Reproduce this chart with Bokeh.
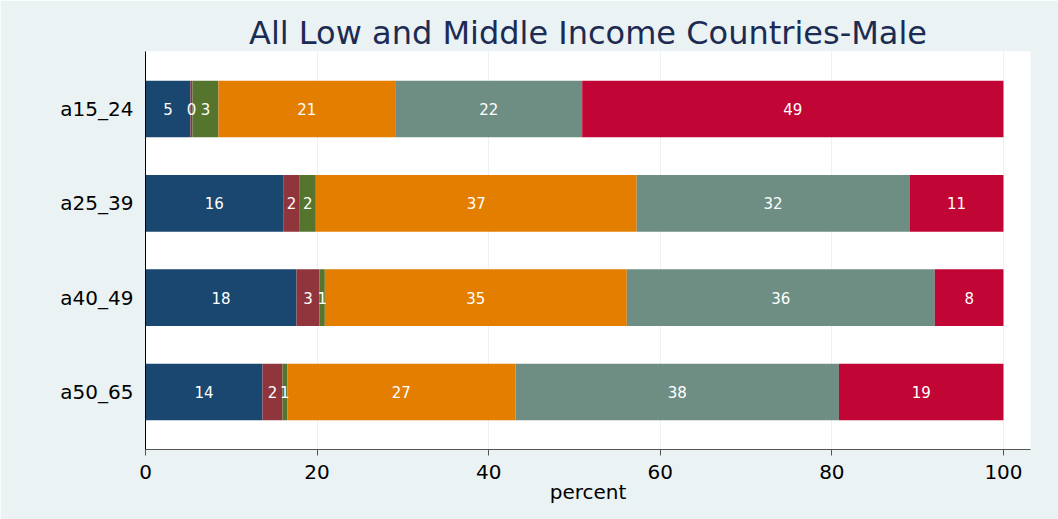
from bokeh.plotting import figure
from bokeh.models import ColumnDataSource, Range1d, FixedTicker
from bokeh.core.properties import value
from bokeh.embed import file_html
from bokeh.resources import INLINE

groups = ["a15_24", "a25_39", "a40_49", "a50_65"]
ypos = [4, 3, 2, 1]
s1 = [5.24, 16.05, 17.6, 13.64]
s2 = [0.23, 1.93, 2.68, 2.33]
s3 = [3.03, 1.87, 0.62, 0.55]
s4 = [20.6, 37.4, 35.2, 26.6]
s5 = [21.8, 31.8, 35.9, 37.7]
s6 = [49.1, 10.95, 8.0, 19.18]
series = [s1, s2, s3, s4, s5, s6]
names = ["s1", "s2", "s3", "s4", "s5", "s6"]
colors = ["#1a476f", "#90353b", "#55752f", "#e37e00", "#6e8e84", "#c10534"]
xticks = [0, 20, 40, 60, 80, 100]

FONT = "DejaVu Sans"
BG = "#eaf2f3"

data = {"y": ypos}
for n, s in zip(names, series):
    data[n] = s
src = ColumnDataSource(data)

p = figure(width=1058, height=519, output_backend="svg", toolbar_location=None,
           x_range=Range1d(0, 103.15), y_range=Range1d(0.39, 4.61),
           min_border_left=145, min_border_right=28, min_border_top=51,
           min_border_bottom=70)
p.border_fill_color = BG
p.background_fill_color = "white"
p.outline_line_color = None

p.hbar_stack(names, y="y", height=0.6, color=colors, source=src, line_width=0)

lx, ly, lt = [], [], []
for i, y in enumerate(ypos):
    left = 0.0
    for s in series:
        v = s[i]
        lx.append(left + v / 2)
        ly.append(y)
        lt.append(f"{v:.0f}")
        left += v
lsrc = ColumnDataSource({"x": lx, "y": ly, "t": lt})
p.text(x="x", y="y", text="t", source=lsrc, text_color="white",
       text_align="center", text_baseline="middle",
       text_font=value(FONT), text_font_size="15px")

p.title.text = "All Low and Middle Income Countries-Male"
p.title.align = "center"
p.title.text_font = FONT
p.title.text_font_size = "32px"
p.title.text_font_style = "normal"
p.title.text_color = "#1c2b53"
p.title.standoff = 0

p.xgrid.grid_line_color = BG
p.xgrid.grid_line_width = 1
p.ygrid.grid_line_color = None

xa = p.xaxis[0]
xa.ticker = FixedTicker(ticks=xticks)
xa.axis_label = "percent"
xa.axis_label_text_font = FONT
xa.axis_label_text_font_size = "20px"
xa.axis_label_text_font_style = "normal"
xa.axis_label_text_color = "black"
xa.axis_label_standoff = -2
xa.major_label_text_font = FONT
xa.major_label_text_font_size = "20px"
xa.major_label_text_color = "black"
xa.major_label_standoff = 9
xa.major_tick_out = 6
xa.major_tick_in = 0
xa.minor_tick_line_color = None
xa.axis_line_color = "#555555"
xa.major_tick_line_color = "#555555"

ya = p.yaxis[0]
ya.ticker = FixedTicker(ticks=ypos)
ya.major_label_overrides = {y: g for y, g in zip(ypos, groups)}
ya.major_label_text_font = FONT
ya.major_label_text_font_size = "20px"
ya.major_label_text_color = "black"
ya.major_label_standoff = 12
ya.major_tick_out = 0
ya.major_tick_in = 0
ya.minor_tick_line_color = None
ya.axis_line_color = "black"

open("out.html", "w").write(file_html(p, INLINE))
